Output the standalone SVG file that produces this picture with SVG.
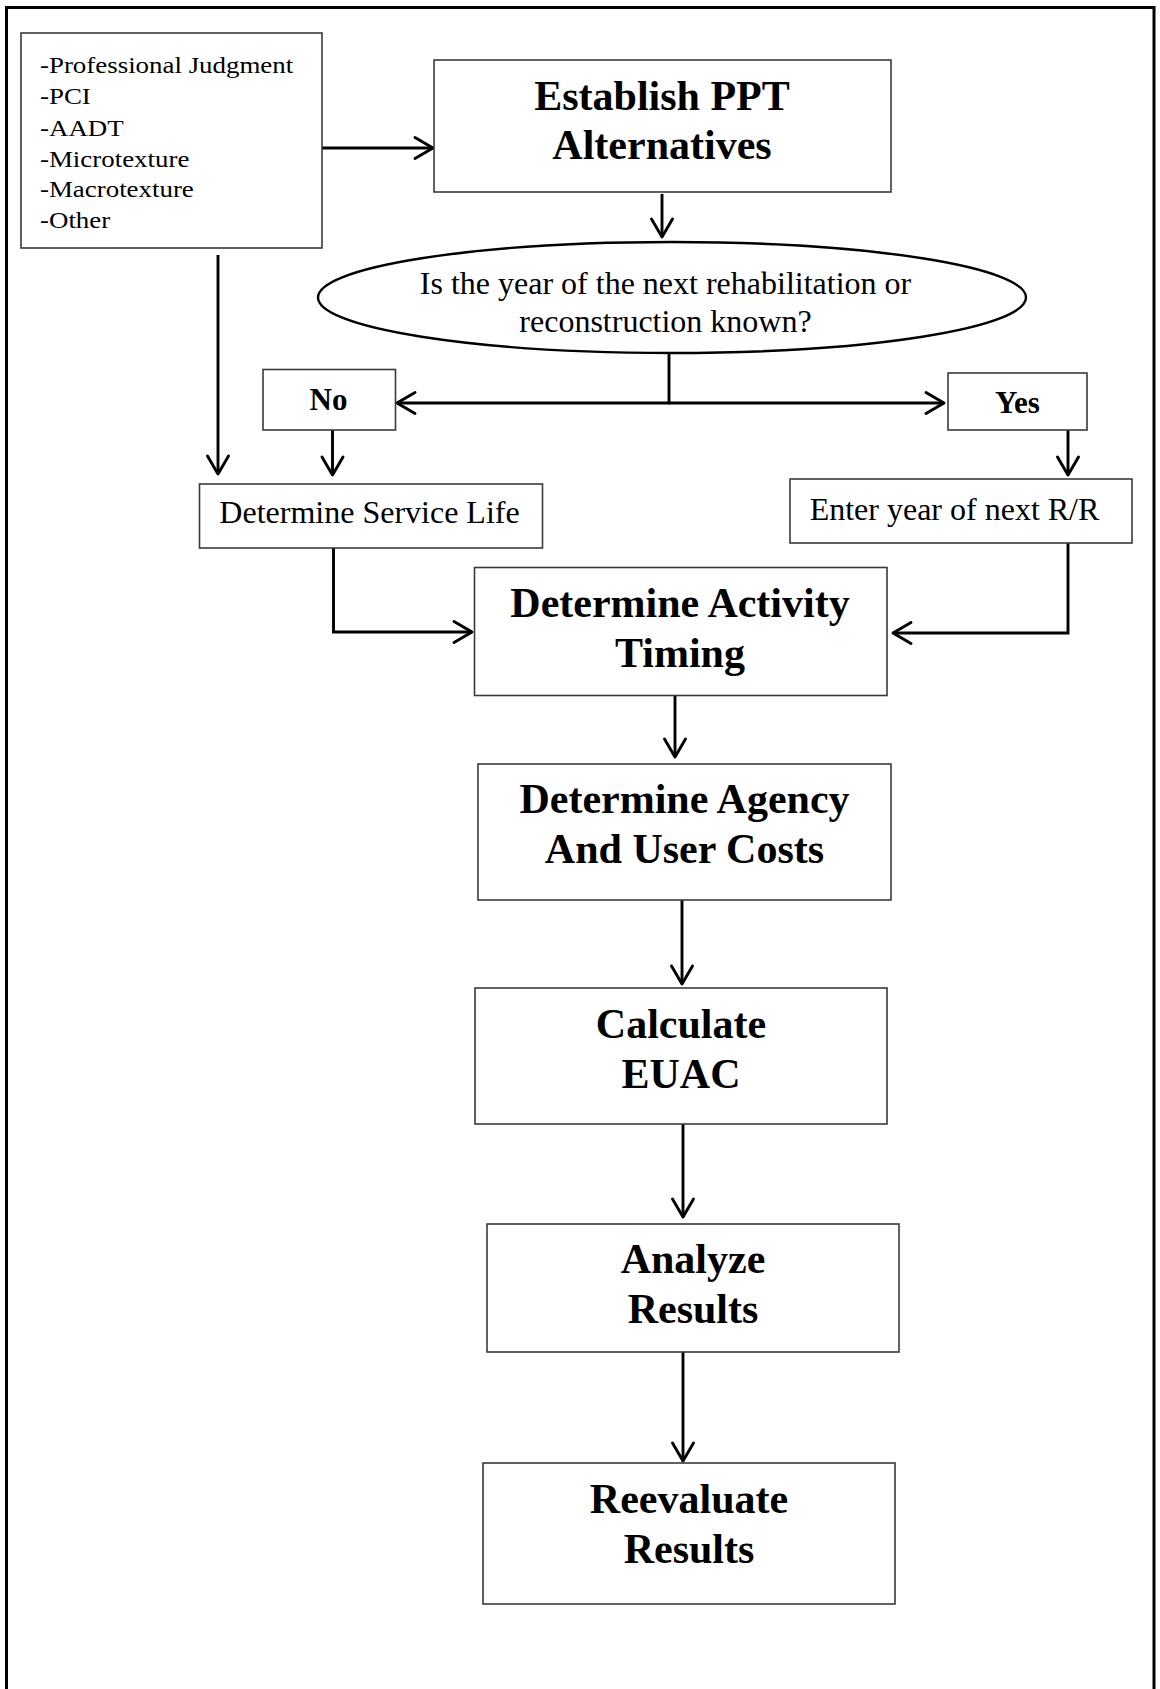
<svg xmlns="http://www.w3.org/2000/svg" width="1160" height="1689" viewBox="0 0 1160 1689">
  <style>
    .box { fill: #fff; stroke: #3a3a3a; stroke-width: 1.6; }
    .ell { fill: #fff; stroke: #000; stroke-width: 2.4; }
    .reg { font-family: "Liberation Serif", "Times New Roman", serif; font-size: 32px; fill: #000; }
    .small { font-family: "Liberation Serif", "Times New Roman", serif; font-size: 23px; fill: #000; }
    .bold { font-family: "Liberation Serif", "Times New Roman", serif; font-weight: bold; font-size: 42px; fill: #000; text-anchor: middle; }
    .lbl { font-family: "Liberation Serif", "Times New Roman", serif; font-weight: bold; font-size: 31px; fill: #000; text-anchor: middle; }
    .mid { text-anchor: middle; }
    .conn { fill: none; stroke: #000; stroke-width: 2.9; }
  </style>
  <defs>
    <marker id="arrow" markerUnits="userSpaceOnUse" viewBox="-22 -13 26 26" markerWidth="26" markerHeight="26" refX="0" refY="0" orient="auto" overflow="visible">
      <path d="M-18,-10.5 L0,0 L-18,10.5" fill="none" stroke="#000" stroke-width="2.9" stroke-linecap="round" stroke-linejoin="round"/>
    </marker>
  </defs>

  <rect width="1160" height="1689" fill="#fff"/>

  <!-- page frame, open at the bottom -->
  <path d="M6.5,1689 V7.5 H1154 V1689" fill="none" stroke="#000" stroke-width="3"/>

  <!-- connectors -->
  <g id="connectors" class="conn" marker-end="url(#arrow)">
    <path d="M322,148 H433"/>
    <path d="M662,194 V237"/>
    <path d="M218,255 V474"/>
    <path d="M669,353 V403 H397"/>
    <path d="M669,403 H944"/>
    <path d="M332.5,430 V475"/>
    <path d="M1068,430 V475"/>
    <path d="M333.5,548 V632 H472"/>
    <path d="M1068,543 V633 H893"/>
    <path d="M675,696 V757"/>
    <path d="M682,900 V984"/>
    <path d="M683,1124 V1217"/>
    <path d="M683,1352 V1461"/>
  </g>

  <!-- inputs list -->
  <g id="inputs">
    <rect class="box" x="21" y="33" width="301" height="215"/>
    <g transform="translate(40 0) scale(1.17 1)">
      <text class="small" x="0" y="73">-Professional Judgment</text>
      <text class="small" x="0" y="104">-PCI</text>
      <text class="small" x="0" y="136">-AADT</text>
      <text class="small" x="0" y="167">-Microtexture</text>
      <text class="small" x="0" y="197">-Macrotexture</text>
      <text class="small" x="0" y="228">-Other</text>
    </g>
  </g>

  <g id="establish">
    <rect class="box" x="434" y="60" width="457" height="132"/>
    <text class="bold" x="662" y="110">Establish PPT</text>
    <text class="bold" x="662" y="159">Alternatives</text>
  </g>

  <g id="decision">
    <ellipse class="ell" cx="672" cy="297.5" rx="354" ry="55.5"/>
    <text class="reg mid" x="665.5" y="294">Is the year of the next rehabilitation or</text>
    <text class="reg mid" x="665.5" y="332">reconstruction known?</text>
  </g>

  <g id="no">
    <rect class="box" x="263" y="369.5" width="132.5" height="60.5"/>
    <text class="lbl" x="328.5" y="410">No</text>
  </g>

  <g id="yes">
    <rect class="box" x="948" y="373" width="139" height="57"/>
    <text class="lbl" x="1017.5" y="413">Yes</text>
  </g>

  <g id="service-life">
    <rect class="box" x="199.5" y="484" width="343" height="64"/>
    <text class="reg mid" x="369.5" y="523">Determine Service Life</text>
  </g>

  <g id="next-rr">
    <rect class="box" x="790" y="479" width="342" height="64"/>
    <text class="reg mid" x="954.5" y="520">Enter year of next R/R</text>
  </g>

  <g id="activity-timing">
    <rect class="box" x="474.5" y="567.5" width="412.5" height="128"/>
    <text class="bold" x="680" y="617">Determine Activity</text>
    <text class="bold" x="680" y="667">Timing</text>
  </g>

  <g id="costs">
    <rect class="box" x="478" y="764" width="413" height="136"/>
    <text class="bold" x="684.5" y="813">Determine Agency</text>
    <text class="bold" x="684.5" y="863">And User Costs</text>
  </g>

  <g id="euac">
    <rect class="box" x="475" y="988" width="412" height="136"/>
    <text class="bold" x="681" y="1038">Calculate</text>
    <text class="bold" x="681" y="1088">EUAC</text>
  </g>

  <g id="analyze">
    <rect class="box" x="487" y="1224" width="412" height="128"/>
    <text class="bold" x="693" y="1273">Analyze</text>
    <text class="bold" x="693" y="1323">Results</text>
  </g>

  <g id="reevaluate">
    <rect class="box" x="483" y="1463" width="412" height="141"/>
    <text class="bold" x="689" y="1513">Reevaluate</text>
    <text class="bold" x="689" y="1563">Results</text>
  </g>
</svg>
